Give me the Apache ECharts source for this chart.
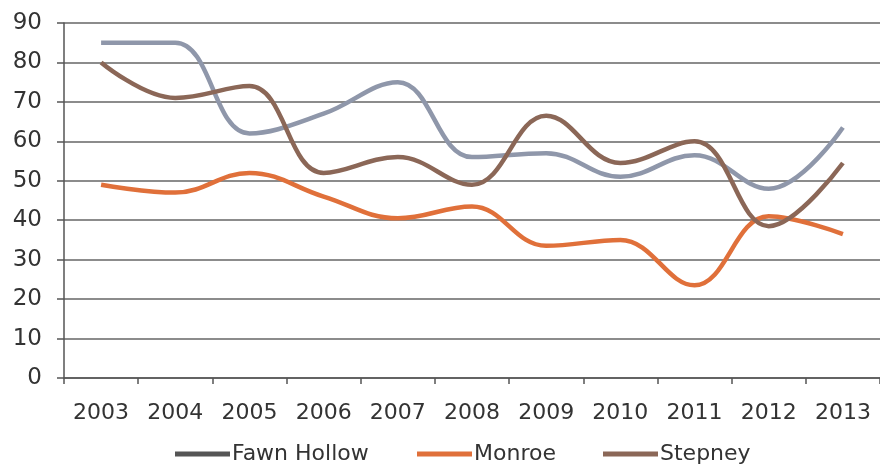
<!DOCTYPE html>
<html>
<head>
    <meta charset="utf-8">
    <title>Line chart</title>
    <script src="https://cdn.jsdelivr.net/npm/echarts@6.0.0/dist/echarts.min.js"></script>
    <style>
        html, body { margin: 0; padding: 0; background: #fff; }
        #chart { width: 880px; height: 472px; }
    </style>
</head>
<body>
    <div id="chart"></div>
    <script>
        // data
        const years = ['2003', '2004', '2005', '2006', '2007', '2008', '2009', '2010', '2011', '2012', '2013'];
        const fawnHollow = [85, 85, 62, 67, 75, 56, 57, 51, 56.5, 48, 63.5];
        const monroe = [49, 47, 52, 46, 40.5, 43.5, 33.5, 35, 23.5, 41, 36.5];
        const stepney = [80, 71, 74, 52, 56, 49, 66.5, 54.5, 60, 38.5, 54.5];

        const chart = echarts.init(document.getElementById('chart'), null, { renderer: 'canvas' });

        const textColor = '#333';
        const font = 'DejaVu Sans';

        function lineSeries(name, data, color) {
            return {
                name: name,
                type: 'line',
                data: data,
                smooth: 0.4,
                showSymbol: false,
                symbol: 'none',
                lineStyle: { color: color, width: 4.5 },
                itemStyle: { color: color },
                animation: false
            };
        }

        // one legend per item so each can sit where the reference has it
        function legendAt(name, left, iconColor) {
            return {
                left: left,
                top: 443,
                padding: 0,
                itemWidth: 55,
                itemHeight: 5,
                itemGap: 0,
                icon: 'rect',
                textStyle: { color: textColor, fontSize: 22, fontFamily: font, padding: [0, 0, 0, -3] },
                data: [{ name: name, itemStyle: { color: iconColor } }]
            };
        }

        chart.setOption({
            backgroundColor: '#fff',
            grid: { left: 64, top: 23, width: 821, height: 355 },
            legend: [
                legendAt('Fawn Hollow', 175, '#555'),
                legendAt('Monroe', 417, '#e0703a'),
                legendAt('Stepney', 603, '#8b6757')
            ],
            xAxis: {
                type: 'category',
                data: years,
                boundaryGap: true,
                axisLine: { lineStyle: { color: '#555', width: 1.5 } },
                axisTick: { show: true, length: 6, lineStyle: { color: '#555', width: 1.5 } },
                axisLabel: { color: textColor, fontSize: 22, fontFamily: font, margin: 24, interval: 0, hideOverlap: false }
            },
            yAxis: {
                type: 'value',
                min: 0,
                max: 90,
                interval: 10,
                axisLine: { show: true, lineStyle: { color: '#555', width: 1.5 } },
                axisTick: { show: true, length: 7, lineStyle: { color: '#555', width: 1.5 } },
                axisLabel: { color: textColor, fontSize: 23, fontFamily: font, margin: 22 },
                splitLine: { lineStyle: { color: '#666', width: 1.5 } }
            },
            series: [
                lineSeries('Fawn Hollow', fawnHollow, '#8f97aa'),
                lineSeries('Monroe', monroe, '#e0703a'),
                lineSeries('Stepney', stepney, '#8b6757')
            ]
        });
    </script>
</body>
</html>
